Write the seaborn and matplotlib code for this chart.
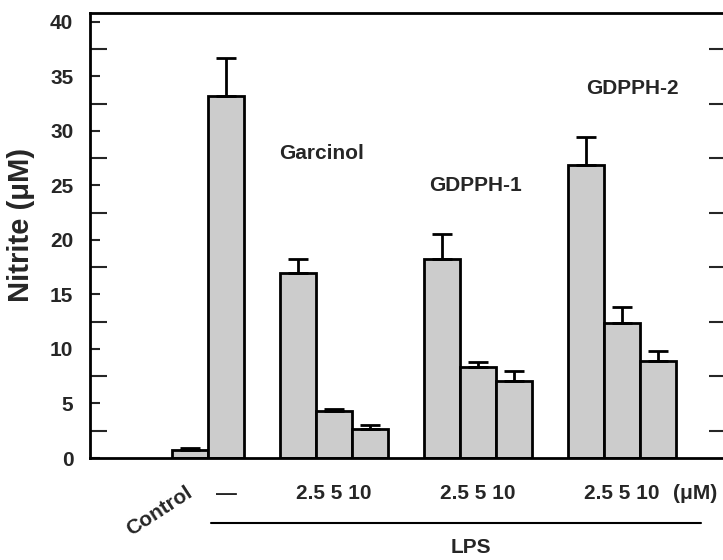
import numpy as np
import pandas as pd
import matplotlib
matplotlib.use("Agg")
import matplotlib.pyplot as plt
import matplotlib.transforms as mtransforms
from matplotlib.ticker import MultipleLocator
import seaborn as sns

# veriler
positions = [0, 1, 3, 4, 5, 7, 8, 9, 11, 12, 13]
nitrite = [0.7, 33.2, 17.0, 4.3, 2.7, 18.2, 8.3, 7.1, 26.9, 12.4, 8.9]
sem = [0.2, 3.5, 1.2, 0.2, 0.3, 2.3, 0.5, 0.9, 2.5, 1.4, 0.9]

compounds = ["Garcinol", "GDPPH-1", "GDPPH-2"]
compound_pos = [(3.67, 27.9), (7.94, 25.0), (12.3, 33.9)]
group_centers = [4, 8, 12]
dose_label = "2.5 5 10"

sns.set_style("ticks")
plt.rcParams["font.family"] = ["Liberation Sans", "DejaVu Sans"]
plt.rcParams["font.weight"] = "bold"

df = pd.DataFrame({"pos": positions, "nitrite": nitrite})

fig = plt.figure(figsize=(7.23, 5.6), dpi=100)
ax = fig.add_axes([90 / 723, 1 - 458 / 560, 636 / 723, 445 / 560])

sns.barplot(data=df, x="pos", y="nitrite", native_scale=True, width=1.0,
            color="#cccccc", saturation=1, edgecolor="black", linewidth=2,
            errorbar=None, ax=ax)
ax.errorbar(positions, nitrite, yerr=[np.zeros(len(sem)), sem], fmt="none",
            ecolor="black", elinewidth=2, capsize=7, capthick=2, zorder=1)

ax.set_xlim(-2.78, 14.9)
ax.set_ylim(0, 40.8)
ax.set_xticks([])
ax.set_xlabel("")

ax.yaxis.set_major_locator(MultipleLocator(5))
ax.yaxis.set_minor_locator(MultipleLocator(2.5))
ax.tick_params(axis="y", which="major", direction="in", length=7, width=1.5,
               labelsize=15, pad=12)
ax.tick_params(axis="y", which="minor", direction="in", length=12, width=1.5)
ax.tick_params(axis="y", which="minor", right=True, labelright=False)
ax.tick_params(axis="y", which="major", right=False)
for lbl in ax.get_yticklabels():
    lbl.set_fontweight("bold")

for side in ["left", "bottom", "top", "right"]:
    ax.spines[side].set_visible(True)
    ax.spines[side].set_linewidth(2)
    ax.spines[side].set_color("black")

ax.set_ylabel("Nitrite (μM)", fontsize=21, fontweight="bold")
ax.yaxis.set_label_coords(-0.086, 0.524)

for name, (x, y) in zip(compounds, compound_pos):
    ax.text(x, y, name, fontsize=15, fontweight="bold", ha="center", va="center")

trans = mtransforms.blended_transform_factory(ax.transData, ax.transAxes)
for xc in group_centers:
    ax.text(xc, -0.079, dose_label, transform=trans, fontsize=15,
            fontweight="bold", ha="center", va="center")
ax.text(1, -0.079, "—", transform=trans, fontsize=15, ha="center", va="center")
ax.text(14.05, -0.079, "(μM)", transform=trans, fontsize=15, fontweight="bold",
        ha="center", va="center")
ax.text(-0.86, -0.119, "Control", transform=trans, fontsize=15, fontweight="bold",
        ha="center", va="center", rotation=33)
ax.plot([0.58, 14.2], [-0.146, -0.146], transform=trans, color="black", lw=1.5,
        clip_on=False)
ax.text(7.8, -0.202, "LPS", transform=trans, fontsize=15, fontweight="bold",
        ha="center", va="center")

fig.savefig("out.png", dpi=100)
plt.close(fig)
